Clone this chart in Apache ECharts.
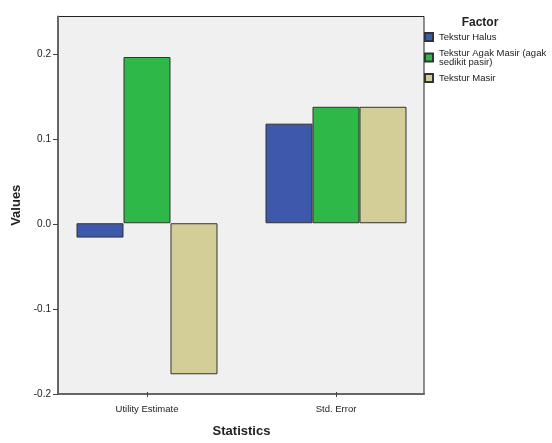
<!DOCTYPE html>
<html><head><meta charset="utf-8">
<script src="https://cdn.jsdelivr.net/npm/echarts@6/dist/echarts.min.js"></script>
<style>html,body{margin:0;padding:0;background:#fff}#c{width:552px;height:443px}</style>
</head><body><div id="c"></div>
<script>
const categories = ['Utility Estimate', 'Std. Error'];
const seriesNames = ['Tekstur Halus', 'Tekstur Agak Masir (agak sedikit pasir)', 'Tekstur Masir'];
const halus = [-0.017, 0.118];
const agakMasir = [0.197, 0.138];
const masir = [-0.179, 0.138];
const yTicks = [-0.2, -0.1, 0.0, 0.1, 0.2];
const colors = ['#3e58ac', '#2eb848', '#d3ce97'];
const values = [halus, agakMasir, masir];

const chart = echarts.init(document.getElementById('c'));
const font = 'Arial, "Liberation Sans", sans-serif';
const yMin = -0.2, yMax = 0.245;
chart.setOption({
  animation: false,
  textStyle: {fontFamily: font},
  title: {text: 'Factor', left: 480, top: 17, textAlign: 'center', padding: 0,
    textStyle: {fontSize: 12, fontWeight: 'bold', color: '#222', fontFamily: font}},
  legend: {
    orient: 'vertical', left: 419, top: 27, itemWidth: 8, itemHeight: 8, itemGap: 6,
    icon: 'rect',
    textStyle: {fontSize: 9.5, color: '#222', lineHeight: 9, padding: [0,0,0,1]},
    formatter: n => n === seriesNames[1] ? 'Tekstur Agak Masir (agak\nsedikit pasir)' : n,
    data: seriesNames
  },
  grid: [
    {left: 58, right: 128, top: 16.5, bottom: 49, show: true, backgroundColor: '#f0f0f0', borderColor: '#222', borderWidth: 1},
    {left: 52.5, right: 121.5, top: 16.5, bottom: 49}
  ],
  xAxis: [
    {
      gridIndex: 0, type: 'category', data: categories,
      axisLine: {onZero: false, lineStyle: {color: '#666', width: 2}},
      axisTick: {show: false}, axisLabel: {show: false}
    },
    {
      gridIndex: 1, type: 'category', data: categories,
      name: 'Statistics', nameLocation: 'middle', nameGap: 33,
      nameTextStyle: {fontSize: 13, fontWeight: 'bold', color: '#222'},
      axisLine: {show: false, onZero: false},
      axisTick: {show: true, alignWithLabel: true, length: 5, lineStyle: {color: '#444'}},
      axisLabel: {fontSize: 9.5, color: '#222', margin: 12}
    }
  ],
  yAxis: [
    {
      gridIndex: 0, type: 'value', min: yMin, max: yMax,
      name: 'Values', nameLocation: 'middle', nameGap: 28.5,
      nameTextStyle: {fontSize: 13, fontWeight: 'bold', color: '#222'},
      axisLine: {show: true, lineStyle: {color: '#666', width: 2}},
      axisTick: {show: true, length: 5, lineStyle: {color: '#444'}, customValues: yTicks},
      splitLine: {show: false},
      axisLabel: {fontSize: 10, color: '#222', margin: 7, customValues: yTicks,
        formatter: v => v.toFixed(1)}
    },
    {
      gridIndex: 1, type: 'value', min: yMin, max: yMax, show: false,
      splitLine: {show: false}
    }
  ],
  series: seriesNames.map((n, i) => ({
    name: n, type: 'bar', data: values[i], xAxisIndex: 1, yAxisIndex: 1,
    barGap: '0%', barCategoryGap: '25.4%',
    itemStyle: {color: colors[i], borderColor: '#333', borderWidth: 1}
  }))
});
</script></body></html>
